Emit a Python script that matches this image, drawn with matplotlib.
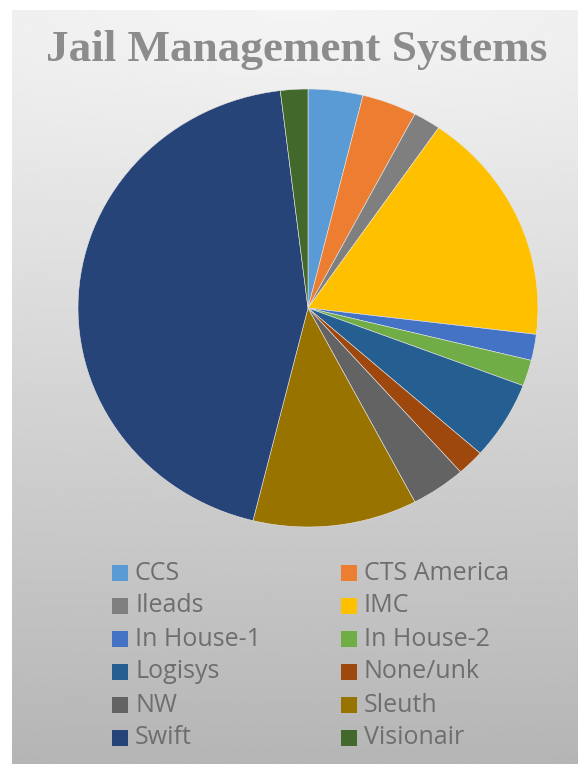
import matplotlib.pyplot as plt
import numpy as np
from matplotlib.patches import Rectangle

# pie data (counts)
systems = ["CCS", "CTS America", "Ileads", "IMC", "In House-1", "In House-2",
           "Logisys", "None/unk", "NW", "Sleuth", "Swift", "Visionair"]
counts = [2, 2, 1, 9, 1, 1, 3, 1, 2, 6, 23, 1]
colors = ["#5B9BD5", "#ED7D31", "#7F7F7F", "#FFC000", "#4472C4", "#70AD47",
          "#255E91", "#9E480E", "#636363", "#997300", "#264478", "#43682B"]

W, H = 578, 764
fig = plt.figure(figsize=(W / 100, H / 100), dpi=100)

# gray gradient background of the chart area (light at the top, darker below)
bg = fig.add_axes([12 / W, 0, (W - 12) / W, (H - 10) / H])
yy, xx = np.mgrid[0:300, 0:300] / 299.0
dist = np.sqrt(((xx - 0.5) * 0.17) ** 2 + yy ** 2)
shade = 0.96 - 0.25 * dist
bg.imshow(shade, cmap="gray", vmin=0, vmax=1, aspect="auto", extent=[0, 1, 1, 0])
bg.axis("off")

# pie, clockwise from 12 o'clock; a little wider than tall like the source
ax = fig.add_axes([78 / W, (H - 527) / H, 460 / W, 438 / H])
wedges, _ = ax.pie(counts, colors=colors, startangle=90, counterclock=False,
                   wedgeprops=dict(edgecolor="#e6e6e6", linewidth=0.4))
ax.set_aspect("auto")
ax.set_xlim(-1, 1)
ax.set_ylim(-1, 1)
ax.axis("off")

fig.text(297 / W, 1 - 50 / H, "Jail Management Systems", ha="center", va="center",
         fontsize=32.5, fontweight="bold", family="Liberation Serif", color="#8c8c8c")

# legend, two columns filled row by row
col_x = [112, 341]
for i, name in enumerate(systems):
    row, col = divmod(i, 2)
    x = col_x[col]
    y = 573 + 33 * row
    fig.add_artist(Rectangle((x / W, 1 - (y + 8) / H), 16 / W, 16 / H,
                             transform=fig.transFigure, facecolor=colors[i],
                             edgecolor="none"))
    fig.text((x + 23) / W, 1 - y / H, name, ha="left", va="center",
             family="Open Sans", fontsize=18, color="#6e6e6e")

fig.savefig("out.png", dpi=100)
